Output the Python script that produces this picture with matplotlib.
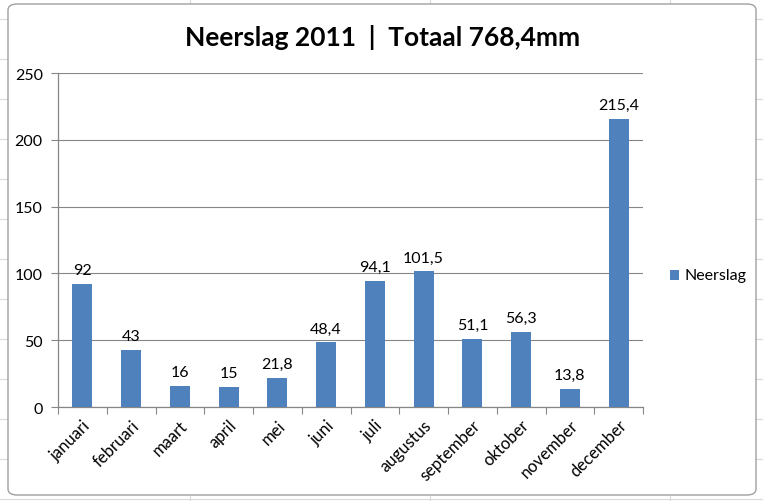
import matplotlib
matplotlib.use("Agg")
import matplotlib.pyplot as plt
from matplotlib.patches import FancyBboxPatch, Rectangle
from matplotlib.lines import Line2D

months = ["januari", "februari", "maart", "april", "mei", "juni", "juli",
          "augustus", "september", "oktober", "november", "december"]
values = [92, 43, 16, 15, 21.8, 48.4, 94.1, 101.5, 51.1, 56.3, 13.8, 215.4]
labels = ["92", "43", "16", "15", "21,8", "48,4", "94,1", "101,5", "51,1", "56,3", "13,8", "215,4"]
yticks = [0, 50, 100, 150, 200, 250]
title = "Neerslag 2011  |  Totaal 768,4mm"
series_name = "Neerslag"

plt.rcParams['font.family'] = ['Lato', 'DejaVu Sans']
W, H = 763, 502
fig = plt.figure(figsize=(W / 100, H / 100), dpi=100)
fig.patch.set_facecolor('white')

# spreadsheet grid behind chart
for xg in [190, 430, 670]:
    fig.add_artist(Line2D([xg / W, xg / W], [0, 1], color='#dadada', lw=0.8, zorder=-3))
for yg in [20, 60, 100, 140, 180, 220, 260, 300, 340, 380, 420, 460, 500]:
    fig.add_artist(Line2D([0, 1], [1 - yg / H, 1 - yg / H], color='#dadada', lw=0.8, zorder=-3))

# chart area with rounded border
fig.add_artist(FancyBboxPatch((8 / W, 6 / H), (756 - 8) / W, (497 - 6) / H,
                              boxstyle="round,pad=0,rounding_size=0.012",
                              transform=fig.transFigure, facecolor='white',
                              edgecolor='#a0a0a0', lw=1.0, zorder=-2))

ax = fig.add_axes([58 / W, 1 - 408 / H, (643 - 58) / W, (408 - 74) / H])
ax.set_facecolor('none')
x = list(range(len(months)))
color = '#4F81BD'
ax.bar(x, values, width=0.41, color=color, zorder=3)
ax.set_xlim(-0.5, len(months) - 0.5)
ax.set_ylim(0, 250)
ax.set_yticks(yticks)
ax.yaxis.grid(True, color='#868686', lw=0.8, zorder=0)
for s in ['top', 'right']:
    ax.spines[s].set_visible(False)
for s in ['left', 'bottom']:
    ax.spines[s].set_color('#868686')
    ax.spines[s].set_linewidth(0.9)
ax.tick_params(axis='y', length=5, color='#868686', labelsize=11.5, pad=6)
ax.set_xticks([i + 0.5 for i in range(-1, len(months))], minor=False)
ax.set_xticklabels([])
ax.tick_params(axis='x', which='major', length=5, color='#868686', direction='out')
ax.set_xticks(x, minor=True)
ax.set_xticklabels(months, minor=True, rotation=45, ha='right', rotation_mode='anchor', fontsize=12)
ax.tick_params(axis='x', which='minor', length=0, pad=7)

for xi, v, lab in zip(x, values, labels):
    ax.annotate(lab, (xi, v), xytext=(0, 5), textcoords='offset points',
                ha='center', va='bottom', fontsize=11.5)

fig.text(383 / W, 1 - 38 / H, title, ha='center', va='center', fontsize=19, fontweight='bold')

# legend
fig.add_artist(Rectangle((670 / W, 1 - 281 / H), 9 / W, 10 / H, facecolor=color,
                         transform=fig.transFigure, edgecolor='none'))
fig.text(684 / W, 1 - 276 / H, series_name, ha='left', va='center', fontsize=11.5)

fig.savefig("out.png", dpi=100)
